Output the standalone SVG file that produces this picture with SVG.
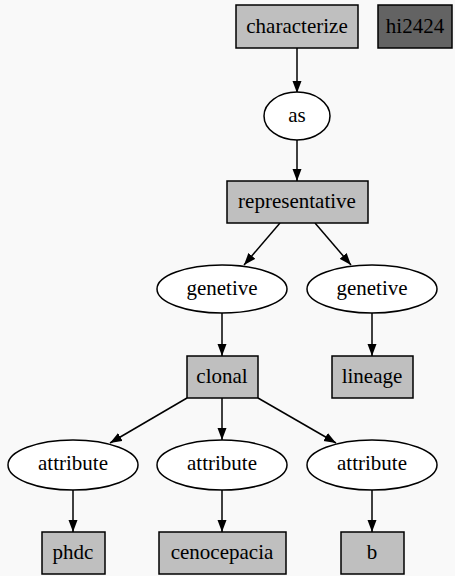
<svg xmlns="http://www.w3.org/2000/svg" width="455" height="576" viewBox="0 0 455 576">
<style>
.box{fill:#bfbfbf;stroke:#000;stroke-width:1.5}
.dark{fill:#636363;stroke:#000;stroke-width:1.5}
.ell{fill:#fff;stroke:#000;stroke-width:1.5}
.t{font-family:"Liberation Serif","DejaVu Serif","Times New Roman",serif;font-size:21px;fill:#000;text-anchor:middle}
.edge{stroke:#000;stroke-width:1.5;fill:none;marker-end:url(#arr)}
</style>
<defs>
<marker id="arr" viewBox="0 0 12 10" refX="12" refY="5" markerWidth="12" markerHeight="10" markerUnits="userSpaceOnUse" orient="auto">
<path d="M0,0.5 L12,5 L0,9.5 Z" fill="#000"/>
</marker>
</defs>
<rect width="455" height="576" fill="#f9f9f9"/>
<g id="connectors">
<line class="edge" x1="297" y1="48" x2="297" y2="93"/>
<line class="edge" x1="297" y1="140" x2="297" y2="181"/>
<line class="edge" x1="280" y1="223" x2="244" y2="265"/>
<line class="edge" x1="315" y1="223" x2="351" y2="265"/>
<line class="edge" x1="222" y1="313" x2="222" y2="356"/>
<line class="edge" x1="372" y1="313" x2="372" y2="356"/>
<line class="edge" x1="187" y1="398" x2="110" y2="443"/>
<line class="edge" x1="222" y1="398" x2="222" y2="440"/>
<line class="edge" x1="258" y1="398" x2="336" y2="443"/>
<line class="edge" x1="73" y1="490" x2="73" y2="532"/>
<line class="edge" x1="222" y1="490" x2="222" y2="532"/>
<line class="edge" x1="372" y1="490" x2="372" y2="532"/>
</g>
<g id="characterize"><rect class="box" x="236" y="5" width="122" height="43"/><text class="t" x="297" y="33">characterize</text></g>
<g id="hi2424"><rect class="dark" x="378" y="5" width="74" height="43"/><text class="t" x="415" y="33">hi2424</text></g>
<g id="as"><ellipse class="ell" cx="297" cy="116" rx="33" ry="24"/><text class="t" x="297" y="122">as</text></g>
<g id="representative"><rect class="box" x="227" y="181" width="141" height="42"/><text class="t" x="297" y="208">representative</text></g>
<g id="genetive1"><ellipse class="ell" cx="222" cy="289" rx="65" ry="24"/><text class="t" x="222" y="295">genetive</text></g>
<g id="genetive2"><ellipse class="ell" cx="372" cy="289" rx="65" ry="24"/><text class="t" x="372" y="295">genetive</text></g>
<g id="clonal"><rect class="box" x="187" y="356" width="71" height="42"/><text class="t" x="222" y="383">clonal</text></g>
<g id="lineage"><rect class="box" x="332" y="356" width="81" height="42"/><text class="t" x="372" y="383">lineage</text></g>
<g id="attribute1"><ellipse class="ell" cx="73" cy="465" rx="65" ry="25"/><text class="t" x="73" y="470">attribute</text></g>
<g id="attribute2"><ellipse class="ell" cx="222" cy="465" rx="65" ry="25"/><text class="t" x="222" y="470">attribute</text></g>
<g id="attribute3"><ellipse class="ell" cx="372" cy="465" rx="65" ry="25"/><text class="t" x="372" y="470">attribute</text></g>
<g id="phdc"><rect class="box" x="42" y="532" width="63" height="42"/><text class="t" x="73" y="559">phdc</text></g>
<g id="cenocepacia"><rect class="box" x="159" y="532" width="127" height="42"/><text class="t" x="222" y="559">cenocepacia</text></g>
<g id="b"><rect class="box" x="341" y="532" width="63" height="42"/><text class="t" x="372" y="559">b</text></g>
</svg>
